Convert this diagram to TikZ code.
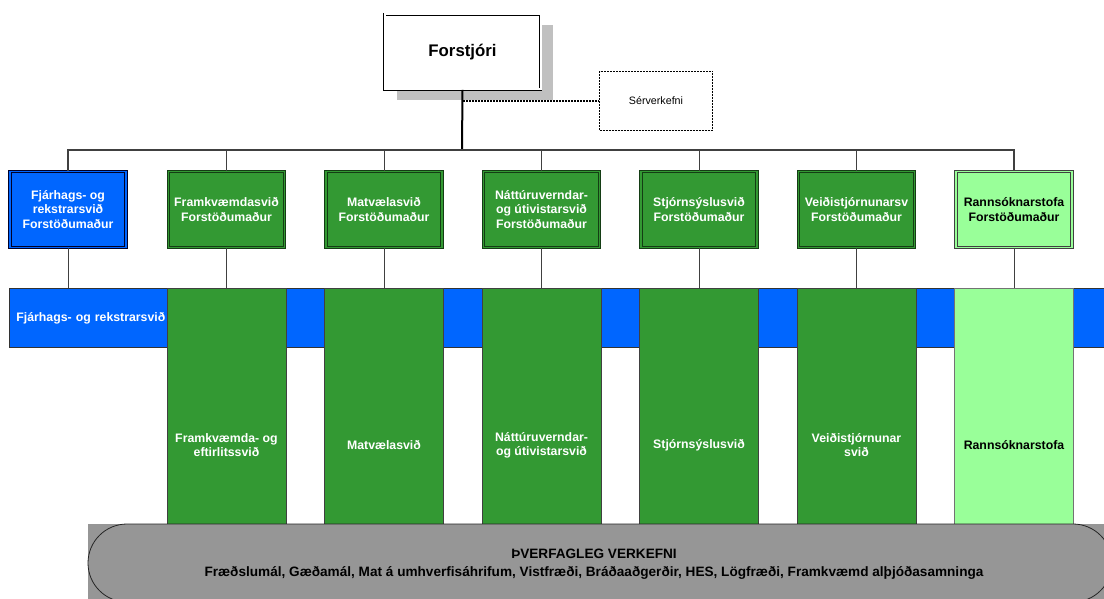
\documentclass[tikz,border=0pt]{standalone}
\usepackage{fontspec}
\setmainfont{Liberation Sans}
\usetikzlibrary{shadows}
\definecolor{blueF}{HTML}{0066FF}
\definecolor{greenF}{HTML}{339933}
\definecolor{lgreenF}{HTML}{99FF99}
\definecolor{grayF}{HTML}{969696}
\definecolor{shadowF}{HTML}{C0C0C0}
\definecolor{dkgreen}{HTML}{143D14}
\begin{document}
\begin{tikzpicture}[x=1pt,y=-1pt,
  conn/.style={draw=black!75, line width=1pt},
  boxfont/.style={font=\bfseries\fontsize{12.3}{14.3}\selectfont},
  topbox/.style={boxfont, minimum width=116pt, minimum height=76pt, inner sep=0pt,
    align=center, line width=1pt, double distance=1.8pt},
  bluebox/.style={topbox, fill=blueF, draw=black!85!blue, double=blueF, text=white},
  greenbox/.style={topbox, fill=greenF, draw=dkgreen, double=greenF, text=white},
  lgreenbox/.style={topbox, fill=lgreenF, draw=black!75, double=lgreenF, text=black},
  tallbox/.style={boxfont, minimum width=119pt, minimum height=314pt, inner sep=0pt,
    align=center, line width=0.7pt},
  tallgreen/.style={tallbox, fill=greenF, draw=black!75, text=white},
  talllgreen/.style={tallbox, fill=lgreenF, draw=black!55, text=black},
  dots/.style={dash pattern=on 2pt off 1pt, line width=1.5pt},
]
\useasboundingbox (0,0) rectangle (1104,599);
\clip (0,0) rectangle (1104,599);

% Director
\node[draw=black, double=white, double distance=2pt, line width=0.6pt, fill=white,
  minimum width=156pt, minimum height=75pt, inner sep=0pt,
  font=\bfseries\fontsize{16.8}{19}\selectfont,
  drop shadow={shadow xshift=12pt, shadow yshift=-11pt, fill=shadowF, opacity=1}]
  (boss) at (462.5,52) {Forstjóri};

\node[draw=black, dots, fill=white, minimum width=113pt, minimum height=59pt, inner sep=0pt,
  font=\fontsize{10.7}{12}\selectfont] (serv) at (656,101) {Sérverkefni};

\coordinate (bus) at (462,150);

% Blue band
\node[fill=blueF, draw=black!80, line width=0.7pt, anchor=north west, minimum height=59pt,
  text width=1089pt, inner xsep=7pt, inner ysep=0pt, align=left, text=white, boxfont]
  (band) at (9,288) {Fjárhags- og rekstrarsvið};

% Top row
\node[bluebox]  (t1) at (68,209.5)   {Fjárhags- og\\rekstrarsvið\\Forstöðumaður};
\node[greenbox] (t2) at (226.5,209.5){Framkvæmdasvið\\Forstöðumaður};
\node[greenbox] (t3) at (384,209.5)  {Matvælasvið\\Forstöðumaður};
\node[greenbox] (t4) at (541.5,209.5){Náttúruverndar-\\og útivistarsvið\\Forstöðumaður};
\node[greenbox] (t5) at (699,209.5)  {Stjórnsýslusvið\\Forstöðumaður};
\node[greenbox] (t6) at (856.5,209.5){Veiðistjórnunarsv\\Forstöðumaður};
\node[lgreenbox](t7) at (1014,209.5) {Rannsóknarstofa\\Forstöðumaður};

% Tall columns
\node[tallgreen]  (d2) at (226.5,445) {Framkvæmda- og\\eftirlitssvið};
\node[tallgreen]  (d3) at (384,445)   {Matvælasvið};
\node[tallgreen]  (d4) at (541.5,445) {Náttúruverndar-\\og útivistarsvið};
\node[tallgreen]  (d5) at (699,445)   {Stjórnsýslusvið};
\node[tallgreen]  (d6) at (856.5,445) {Veiðistjórnunar\\svið};
\node[talllgreen] (d7) at (1014,445)  {Rannsóknarstofa};

% Connectors
\draw[dots] (boss.south) |- (serv.west);
\draw[line width=2pt] (boss.south) -- (bus);
\draw[conn, line width=1.3pt] (t1.north) -- (t1.north |- bus) -- (t7.north |- bus) -- (t7.north);
\foreach \k in {2,...,6} { \draw[conn] (t\k.north) -- (t\k.north |- bus); }
\draw[conn] (t1.south) -- (t1.south |- band.north);
\foreach \k in {2,...,7} { \draw[conn] (t\k.south) -- (d\k.north); }

% Cross-cutting tasks
\fill[grayF] (88,524) rectangle (1112,602);
\draw[black!85, line width=0.8pt, rounded corners=39pt] (88,524) rectangle (1112,602);
\node[inner sep=0pt, align=center, text=black,
  font=\bfseries\fontsize{13.6}{18}\selectfont] (cross) at (594,564)
  {ÞVERFAGLEG VERKEFNI\\Fræðslumál, Gæðamál, Mat á umhverfisáhrifum, Vistfræði, Bráðaaðgerðir, HES, Lögfræði, Framkvæmd alþjóðasamninga};
\end{tikzpicture}
\end{document}
